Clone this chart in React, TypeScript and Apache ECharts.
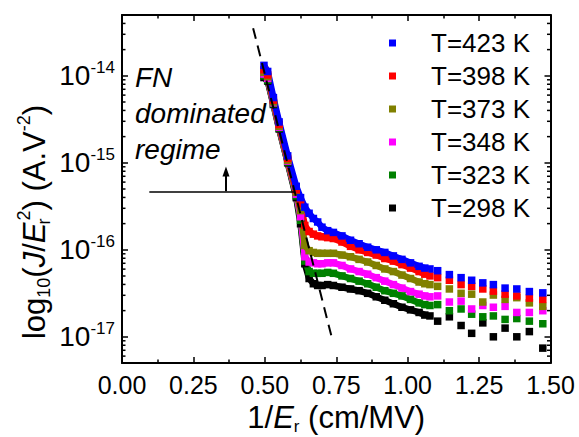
import React, { useEffect, useRef } from 'react';
import * as echarts from 'echarts';

const FONT = '"Liberation Sans", Arial, Helvetica, sans-serif';

// Legend order (top to bottom)
const seriesNames = ['T=423 K', 'T=398 K', 'T=373 K', 'T=348 K', 'T=323 K', 'T=298 K'];
const seriesColors = ['#0000ff', '#ff0000', '#808000', '#ff00ff', '#008000', '#000000'];

// 1/E_r (cm/MV) sampling of the dense part and of the sparse tail
const denseX = [0.497, 0.51, 0.53, 0.55, 0.58, 0.61, 0.625, 0.64, 0.655, 0.67, 0.685, 0.70, 0.72, 0.74, 0.77, 0.80, 0.83, 0.86, 0.89, 0.92, 0.95, 0.98, 1.01, 1.04, 1.06];
const sparseX = [1.078, 1.105, 1.146, 1.187, 1.224, 1.263, 1.300, 1.341, 1.382, 1.426, 1.473];

// log10(J/E_r^2)
const dense423 = [-13.88, -13.95, -14.25, -14.53, -14.92, -15.27, -15.40, -15.51, -15.58, -15.64, -15.68, -15.74, -15.78, -15.80, -15.84, -15.89, -15.93, -15.97, -16.00, -16.03, -16.07, -16.11, -16.15, -16.19, -16.21];
const dense398 = [-13.93, -13.99, -14.28, -14.56, -14.95, -15.31, -15.47, -15.72, -15.79, -15.82, -15.84, -15.85, -15.86, -15.87, -15.91, -15.96, -16.00, -16.03, -16.06, -16.10, -16.13, -16.17, -16.21, -16.25, -16.28];
const dense373 = [-13.96, -14.01, -14.30, -14.58, -14.97, -15.34, -15.55, -15.95, -16.01, -16.03, -16.04, -16.04, -16.04, -16.04, -16.06, -16.08, -16.11, -16.14, -16.18, -16.22, -16.25, -16.29, -16.33, -16.37, -16.39];
const dense348 = [-13.98, -14.03, -14.31, -14.59, -14.98, -15.36, -15.62, -16.08, -16.14, -16.15, -16.16, -16.16, -16.15, -16.15, -16.18, -16.22, -16.25, -16.28, -16.32, -16.36, -16.40, -16.44, -16.48, -16.51, -16.53];
const dense323 = [-14.00, -14.05, -14.32, -14.60, -14.99, -15.38, -15.66, -16.13, -16.25, -16.27, -16.27, -16.27, -16.26, -16.27, -16.30, -16.33, -16.36, -16.39, -16.43, -16.47, -16.50, -16.53, -16.57, -16.61, -16.63];
const dense298 = [-14.02, -14.06, -14.33, -14.61, -15.00, -15.40, -15.70, -16.16, -16.33, -16.39, -16.41, -16.41, -16.40, -16.41, -16.43, -16.45, -16.47, -16.50, -16.54, -16.58, -16.62, -16.66, -16.69, -16.72, -16.75];

const sparse423 = [-16.22, -16.24, -16.285, -16.32, -16.35, -16.38, -16.40, -16.44, -16.45, -16.48, -16.495];
const sparse398 = [-16.30, -16.32, -16.35, -16.40, -16.42, -16.45, -16.475, -16.51, -16.53, -16.555, -16.57];
const sparse373 = [-16.40, -16.42, -16.45, -16.50, -16.51, -16.60, -16.52, -16.57, -16.55, -16.61, -16.65];
const sparse348 = [-16.54, -16.53, -16.60, -16.59, -16.68, -16.64, -16.66, -16.65, -16.72, -16.72, -16.70];
const sparse323 = [-16.64, -16.63, -16.70, -16.68, -16.74, -16.77, -16.76, -16.80, -16.79, -16.82, -16.85];
const sparse298 = [-16.76, -16.82, -16.77, -16.87, -16.96, -16.84, -17.00, -16.90, -17.00, -16.94, -17.13];

const denseLogJ = [dense423, dense398, dense373, dense348, dense323, dense298];
const sparseLogJ = [sparse423, sparse398, sparse373, sparse348, sparse323, sparse298];

// Ticks
const xTickLabels = ['0.00', '0.25', '0.50', '0.75', '1.00', '1.25', '1.50'];
const yTickExponents = [-17, -16, -15, -14];
const yMinorMultipliers = [2, 3, 4, 5, 6, 7, 8, 9];
const yMinorDecades = [-18, -17, -16, -15, -14];

// Annotations (data coordinates)
const fnFitStart = [0.459, -13.452];
const fnFitEnd = [0.7376, -17.05];
const thresholdLogJ = -15.328;
const thresholdXFrom = 0.0956;
const thresholdXTo = 0.6055;
const arrowX = 0.364;
const arrowHeadLogJ = -15.1;

const X_MIN = 0;
const X_MAX = 1.5;
const Y_MIN = -17.301;
const Y_MAX = -13.301;

export default function App() {
  const ref = useRef<HTMLDivElement>(null);

  useEffect(() => {
    if (!ref.current) return;
    const chart = echarts.init(ref.current, undefined, { renderer: 'svg' });

    const drawOrder = [5, 4, 3, 2, 1, 0];

    const scatterSeries = drawOrder.map((i) => ({
      type: 'scatter',
      name: seriesNames[i],
      data: sparseX.map((x, k) => [x, sparseLogJ[i][k]]),
      symbol: 'rect',
      symbolSize: 7.5,
      itemStyle: { color: seriesColors[i], opacity: 1 },
      silent: true,
      z: 3,
    }));

    const lineSeries: any[] = drawOrder.map((i) => ({
      type: 'line',
      name: seriesNames[i],
      data: denseX.map((x, k) => [x, denseLogJ[i][k]]),
      symbol: 'rect',
      symbolSize: 7.5,
      showSymbol: true,
      lineStyle: { width: 6.5, color: seriesColors[i], cap: 'butt' },
      itemStyle: { color: seriesColors[i] },
      silent: true,
      z: 3,
    }));

    const minorValues: number[][] = [];
    yMinorDecades.forEach((d) => {
      yMinorMultipliers.forEach((m) => {
        const v = d + Math.log10(m);
        if (v > Y_MIN + 0.005 && v < Y_MAX - 0.005) minorValues.push([0, v]);
      });
    });

    const minorTickSeries = {
      type: 'custom',
      silent: true,
      clip: false,
      z: 4,
      data: minorValues,
      encode: { x: 0, y: 1 },
      renderItem: (_p: any, api: any) => {
        const v = api.value(1);
        const l = api.coord([X_MIN, v]);
        const r = api.coord([X_MAX, v]);
        return {
          type: 'group',
          children: [
            { type: 'line', shape: { x1: l[0], y1: l[1], x2: l[0] + 3.5, y2: l[1] }, style: { stroke: '#000', lineWidth: 1.5 } },
            { type: 'line', shape: { x1: r[0], y1: r[1], x2: r[0] - 3.5, y2: r[1] }, style: { stroke: '#000', lineWidth: 1.5 } },
          ],
        };
      },
    };

    // annotations on top-most (blue) dense series
    lineSeries[lineSeries.length - 1].markLine = {
      silent: true,
      animation: false,
      symbol: ['none', 'none'],
      label: { show: false },
      emphasis: { disabled: true },
      data: [
        [
          { coord: fnFitStart, lineStyle: { color: '#000', width: 2, type: [11, 7] } },
          { coord: fnFitEnd },
        ],
        [
          { coord: [thresholdXFrom, thresholdLogJ], lineStyle: { color: '#000', width: 1.5, type: 'solid' } },
          { coord: [thresholdXTo, thresholdLogJ] },
        ],
        [
          { coord: [arrowX, thresholdLogJ], symbol: 'none', lineStyle: { color: '#000', width: 2, type: 'solid' } },
          { coord: [arrowX, arrowHeadLogJ], symbol: 'triangle', symbolSize: [7, 10] },
        ],
      ],
    };

    const axisCommon = {
      axisLine: { show: true, onZero: false, lineStyle: { color: '#000', width: 2 } },
      splitLine: { show: false },
    };

    const option: any = {
      animation: false,
      backgroundColor: '#fff',
      grid: { left: 122, right: 28.5, top: 15, bottom: 74, containLabel: false, outerBoundsMode: 'none' },
      legend: {
        orient: 'vertical',
        left: 389,
        top: 30,
        padding: 0,
        itemGap: 7,
        itemWidth: 7,
        itemHeight: 7,
        icon: 'rect',
        selectedMode: false,
        data: seriesNames.map((n) => ({ name: n, icon: 'rect' })),
        textStyle: {
          color: '#000',
          fontFamily: FONT,
          fontSize: 26,
          padding: [0, 0, 0, 30],
        },
      },
      xAxis: [
        {
          ...axisCommon,
          type: 'value',
          position: 'bottom',
          min: X_MIN,
          max: X_MAX,
          interval: 0.25,
          axisTick: { show: true, inside: true, length: 6, lineStyle: { color: '#000', width: 1.5 } },
          minorTick: { show: true, splitNumber: 2, length: 3.5, lineStyle: { color: '#000', width: 1.5 } },
          axisLabel: {
            show: true,
            margin: 9,
            color: '#000',
            fontFamily: FONT,
            fontSize: 25,
            formatter: (v: number) => xTickLabels[Math.round(v / 0.25)] ?? '',
          },
          name: '{m|1/}{i|E}{sb|r}{m| (cm/MV)}',
          nameLocation: 'middle',
          nameGap: 35,
          nameTextStyle: {
            color: '#000',
            fontFamily: FONT,
            fontSize: 31,
            rich: {
              m: { fontSize: 31, fontFamily: FONT, color: '#000', lineHeight: 36 },
              i: { fontSize: 31, fontFamily: FONT, color: '#000', fontStyle: 'italic', lineHeight: 36 },
              sb: { fontSize: 17, fontFamily: FONT, color: '#000', lineHeight: 16, verticalAlign: 'bottom' },
            },
          },
        },
        {
          ...axisCommon,
          type: 'value',
          position: 'top',
          min: X_MIN,
          max: X_MAX,
          interval: 0.25,
          axisTick: { show: true, inside: true, length: 6, lineStyle: { color: '#000', width: 1.5 } },
          minorTick: { show: true, splitNumber: 2, length: 3.5, lineStyle: { color: '#000', width: 1.5 } },
          axisLabel: { show: false },
        },
      ],
      yAxis: [
        {
          ...axisCommon,
          type: 'value',
          position: 'left',
          min: Y_MIN,
          max: Y_MAX,
          splitNumber: 4,
          axisTick: { show: true, inside: true, length: 6, lineStyle: { color: '#000', width: 1.5 } },
          axisLabel: {
            show: true,
            margin: 7,
            showMinLabel: false,
            showMaxLabel: false,
            formatter: (v: number) => {
              const n = Math.round(v);
              if (Math.abs(v - n) > 1e-6 || yTickExponents.indexOf(n) < 0) return '';
              return `{b|10}{s|${n}}`;
            },
            rich: {
              b: { fontSize: 28, fontFamily: FONT, color: '#000', lineHeight: 34 },
              s: { fontSize: 17, fontFamily: FONT, color: '#000', lineHeight: 14, verticalAlign: 'top' },
            },
          },
        },
        {
          ...axisCommon,
          type: 'value',
          position: 'right',
          min: Y_MIN,
          max: Y_MAX,
          splitNumber: 4,
          axisTick: { show: true, inside: true, length: 6, lineStyle: { color: '#000', width: 1.5 } },
          axisLabel: { show: false },
        },
      ],
      graphic: [
        {
          type: 'text',
          x: 135,
          y: 77,
          silent: true,
          style: { text: 'FN', fontFamily: FONT, fontSize: 28, fontStyle: 'italic', fill: '#000', align: 'left', verticalAlign: 'middle' },
        },
        {
          type: 'text',
          x: 135,
          y: 113,
          silent: true,
          style: { text: 'dominated', fontFamily: FONT, fontSize: 28, fontStyle: 'italic', fill: '#000', align: 'left', verticalAlign: 'middle' },
        },
        {
          type: 'text',
          x: 135,
          y: 149,
          silent: true,
          style: { text: 'regime', fontFamily: FONT, fontSize: 28, fontStyle: 'italic', fill: '#000', align: 'left', verticalAlign: 'middle' },
        },
        {
          type: 'text',
          x: 34,
          y: 222,
          rotation: Math.PI / 2,
          silent: true,
          style: {
            text: '{m|log}{sb|10}{m|(}{i|J}{m|/}{i|E}{sr|r}{sp|2}{m|) (A.V}{sp|-2}{m|)}',
            align: 'center',
            verticalAlign: 'middle',
            fontFamily: FONT,
            fontSize: 31,
            fill: '#000',
            rich: {
              m: { fontSize: 31, fontFamily: FONT, fill: '#000', lineHeight: 38 },
              i: { fontSize: 31, fontFamily: FONT, fill: '#000', fontStyle: 'italic', lineHeight: 38 },
              sb: { fontSize: 18, fontFamily: FONT, fill: '#000', lineHeight: 14, verticalAlign: 'bottom' },
              sr: { fontSize: 18, fontFamily: FONT, fill: '#000', lineHeight: 14, verticalAlign: 'bottom', width: 2 },
              sp: { fontSize: 18, fontFamily: FONT, fill: '#000', lineHeight: 14, verticalAlign: 'top' },
            },
          },
        },
      ],
      series: [...scatterSeries, ...lineSeries, minorTickSeries],
    };

    chart.setOption(option);
    return () => {
      chart.dispose();
    };
  }, []);

  return (
    <div
      ref={ref}
      style={{ position: 'fixed', left: 0, top: 0, width: 579, height: 437, background: '#fff' }}
    />
  );
}
